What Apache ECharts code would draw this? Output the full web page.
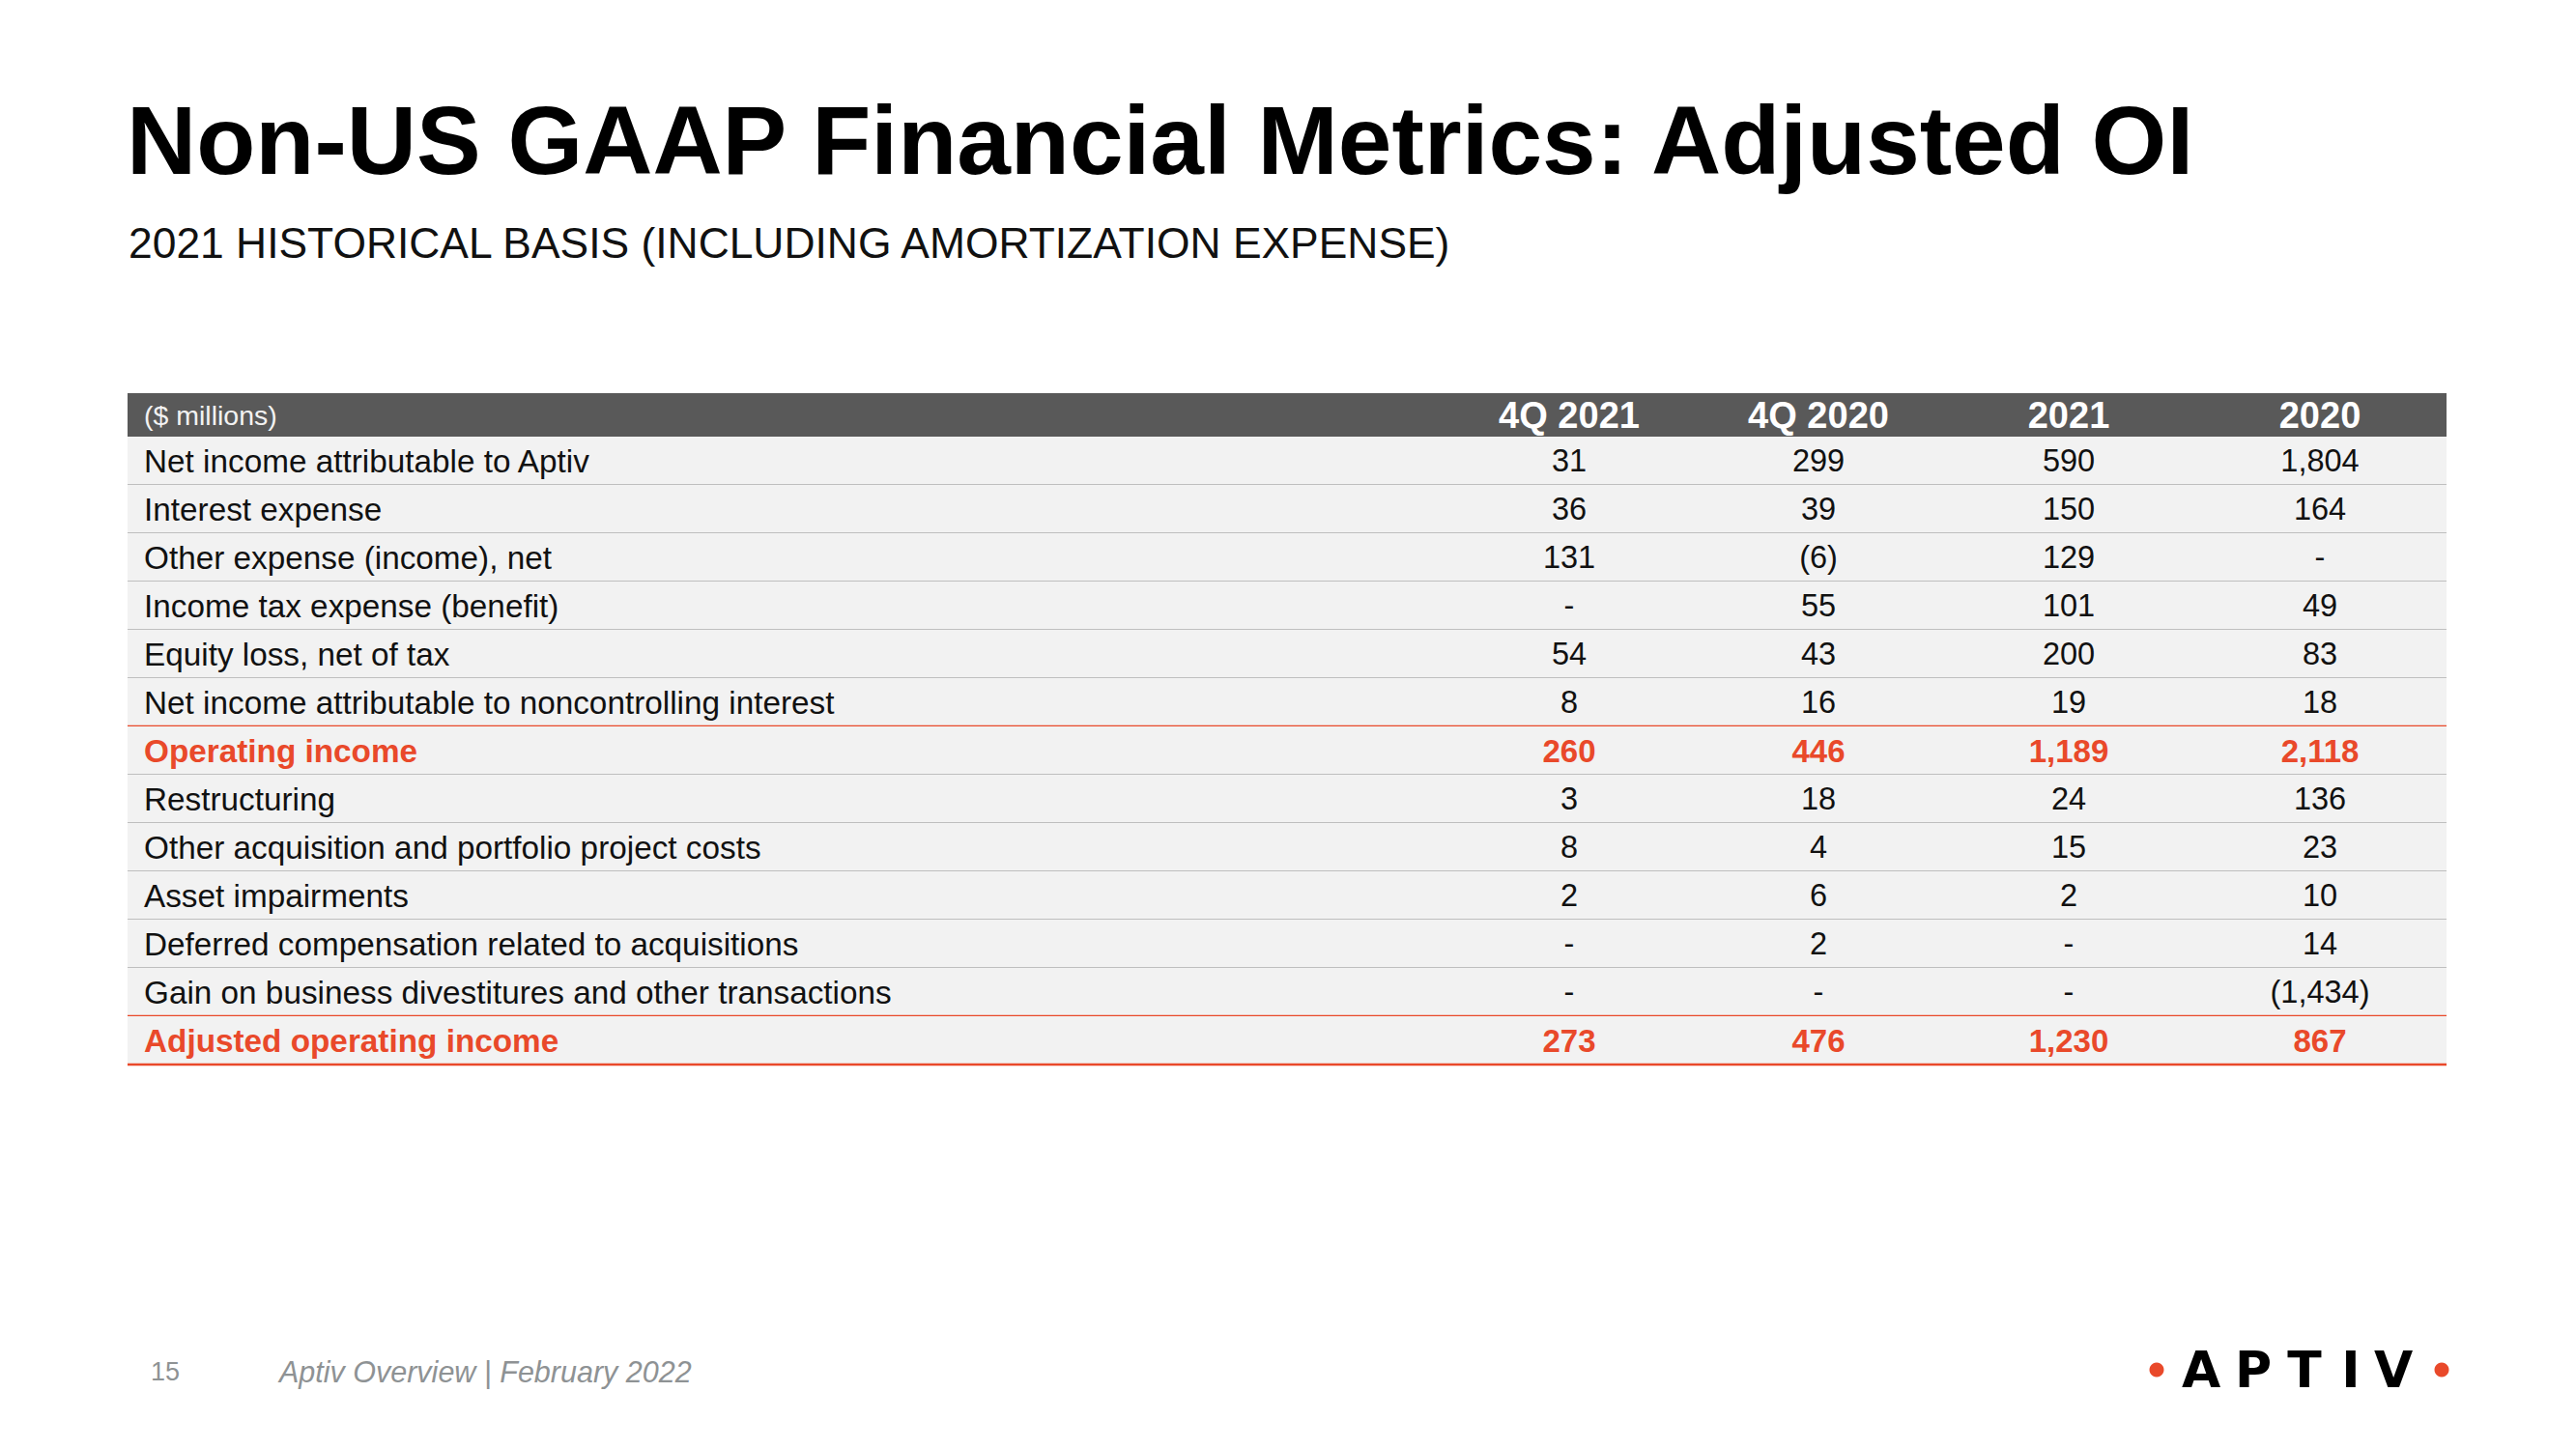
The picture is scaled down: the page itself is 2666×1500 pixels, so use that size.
<!DOCTYPE html>
<html>
<head>
<meta charset="utf-8">
<script src="https://cdn.jsdelivr.net/npm/echarts@6/dist/echarts.min.js"></script>
<style>
  html, body { margin: 0; padding: 0; background: #ffffff; }
  #chart { width: 2666px; height: 1500px; }
</style>
</head>
<body>
<div id="chart"></div>
<script>
// ---------------- DATA ----------------
const titleText = 'Non-US GAAP Financial Metrics: Adjusted OI';
const subtitleText = '2021 HISTORICAL BASIS (INCLUDING AMORTIZATION EXPENSE)';
const unitLabel = '($ millions)';
const columnHeaders = ['4Q 2021', '4Q 2020', '2021', '2020'];
const rowLabels = [
  'Net income attributable to Aptiv',
  'Interest expense',
  'Other expense (income), net',
  'Income tax expense (benefit)',
  'Equity loss, net of tax',
  'Net income attributable to noncontrolling interest',
  'Operating income',
  'Restructuring',
  'Other acquisition and portfolio project costs',
  'Asset impairments',
  'Deferred compensation related to acquisitions',
  'Gain on business divestitures and other transactions',
  'Adjusted operating income'
];
// null = "-" ; negative = shown in parentheses
const values4Q2021 = [31, 36, 131, null, 54, 8, 260, 3, 8, 2, null, null, 273];
const values4Q2020 = [299, 39, -6, 55, 43, 16, 446, 18, 4, 6, 2, null, 476];
const values2021   = [590, 150, 129, 101, 200, 19, 1189, 24, 15, 2, null, null, 1230];
const values2020   = [1804, 164, null, 49, 83, 18, 2118, 136, 23, 10, 14, -1434, 867];
const highlightRows = [6, 12];
const footerPage = '15';
const footerText = 'Aptiv Overview | February 2022';
const logoLetters = ['A', 'P', 'T', 'I', 'V'];

// ---------------- STYLE / LAYOUT ----------------
const RED = '#e9492a';
const FONT = '"Liberation Sans", Arial, sans-serif';
const TABLE_LEFT = 132, TABLE_RIGHT = 2532, TABLE_W = TABLE_RIGHT - TABLE_LEFT;
const HEADER_UNITS = 0.9;
const LABEL_X = 17;
const COL_X = [1624, 1882, 2141, 2401].map(v => v - TABLE_LEFT);

const valueCols = [values4Q2021, values4Q2020, values2021, values2020];
function fmt(v) {
  if (v === null || v === undefined) return '-';
  const s = Math.abs(v).toLocaleString('en-US');
  return v < 0 ? '(' + s + ')' : s;
}

// cells built from the data arrays
const cells = [];
cells.push({ x: LABEL_X, y: -HEADER_UNITS / 2, text: unitLabel, kind: 'unit' });
columnHeaders.forEach((h, c) => cells.push({ x: COL_X[c], y: -HEADER_UNITS / 2, text: h, kind: 'head' }));
rowLabels.forEach((label, i) => {
  const hl = highlightRows.includes(i);
  cells.push({ x: LABEL_X, y: i + 0.5, text: label, kind: hl ? 'labelHL' : 'label' });
  valueCols.forEach((col, c) => {
    cells.push({ x: COL_X[c], y: i + 0.5, text: fmt(col[i]), kind: hl ? 'numHL' : 'num' });
  });
});

const chart = echarts.init(document.getElementById('chart'), null, { renderer: 'svg', width: 2666, height: 1500 });

const option = {
  backgroundColor: '#ffffff',
  animation: false,
  grid: { left: TABLE_LEFT, right: 2666 - TABLE_RIGHT, top: 407, height: 695 },
  xAxis: { type: 'value', min: 0, max: TABLE_W, show: false },
  yAxis: { type: 'value', min: -HEADER_UNITS, max: rowLabels.length, inverse: true, show: false },
  series: [
    {
      type: 'custom', name: 'rows', silent: true,
      data: rowLabels.map((_, i) => [i]),
      renderItem: function (params, api) {
        const i = api.value(0);
        const p0 = api.coord([0, i]);
        const p1 = api.coord([TABLE_W, i + 1]);
        const red = highlightRows.includes(i + 1) || i === rowLabels.length - 1;
        return {
          type: 'group',
          children: [
            { type: 'rect', shape: { x: p0[0], y: p0[1], width: p1[0] - p0[0], height: p1[1] - p0[1] }, style: { fill: '#f2f2f2' } },
            { type: 'line', shape: { x1: p0[0], y1: p1[1], x2: p1[0], y2: p1[1] }, style: { stroke: red ? RED : '#bfbfbf', lineWidth: red ? 2.5 : 2 } }
          ]
        };
      }
    },
    {
      type: 'custom', name: 'header', silent: true,
      data: [[-HEADER_UNITS]],
      renderItem: function (params, api) {
        const p0 = api.coord([0, api.value(0)]);
        const p1 = api.coord([TABLE_W, 0]);
        return { type: 'rect', shape: { x: p0[0], y: p0[1], width: p1[0] - p0[0], height: p1[1] - p0[1] }, style: { fill: '#595959' } };
      }
    },
    {
      type: 'custom', name: 'cells', silent: true,
      data: cells.map(c => [c.x, c.y]),
      renderItem: function (params, api) {
        const cell = cells[params.dataIndex];
        const pt = api.coord([api.value(0), api.value(1)]);
        let fill = '#111111', size = 32.5, weight = 'normal', align = 'center';
        if (cell.kind === 'unit') { fill = '#f2f2f2'; size = 28.5; align = 'left'; }
        else if (cell.kind === 'head') { fill = '#ffffff'; size = 38; weight = 'bold'; }
        else if (cell.kind === 'label') { align = 'left'; size = 33.3; }
        else if (cell.kind === 'labelHL') { align = 'left'; fill = RED; weight = 'bold'; size = 33.3; }
        else if (cell.kind === 'numHL') { fill = RED; weight = 'bold'; size = 33; }
        return {
          type: 'text', x: pt[0], y: pt[1],
          style: { text: cell.text, fill: fill, fontSize: size, fontWeight: weight, fontFamily: FONT, align: align, verticalAlign: 'middle' }
        };
      }
    }
  ],
  graphic: [
    { type: 'text', x: 131, y: 145, silent: true,
      style: { text: titleText, fill: '#000000', fontSize: 100, fontWeight: 'bold', fontFamily: FONT, align: 'left', verticalAlign: 'middle' } },
    { type: 'text', x: 133, y: 251, silent: true,
      style: { text: subtitleText, fill: '#111111', fontSize: 44.4, fontFamily: FONT, align: 'left', verticalAlign: 'middle' } },
    { type: 'text', x: 156, y: 1420, silent: true,
      style: { text: footerPage, fill: '#8e9294', fontSize: 27, fontFamily: FONT, align: 'left', verticalAlign: 'middle' } },
    { type: 'text', x: 289, y: 1420, silent: true,
      style: { text: footerText, fill: '#8e9294', fontSize: 30.5, fontStyle: 'italic', fontFamily: FONT, align: 'left', verticalAlign: 'middle' } },
    { type: 'circle', shape: { cx: 2232, cy: 1418, r: 7.5 }, style: { fill: RED }, silent: true },
    { type: 'circle', shape: { cx: 2527, cy: 1418, r: 7.5 }, style: { fill: RED }, silent: true }
  ].concat(logoLetters.map((ch, k) => ({
    type: 'text', x: [2278, 2332, 2385, 2433, 2477][k], y: 1418, silent: true,
    style: { text: ch, fill: '#000000', fontSize: 52, fontWeight: 'bold', fontFamily: '"DejaVu Sans", "Liberation Sans", sans-serif', align: 'center', verticalAlign: 'middle' }
  })))
};
chart.setOption(option);
</script>
</body>
</html>
